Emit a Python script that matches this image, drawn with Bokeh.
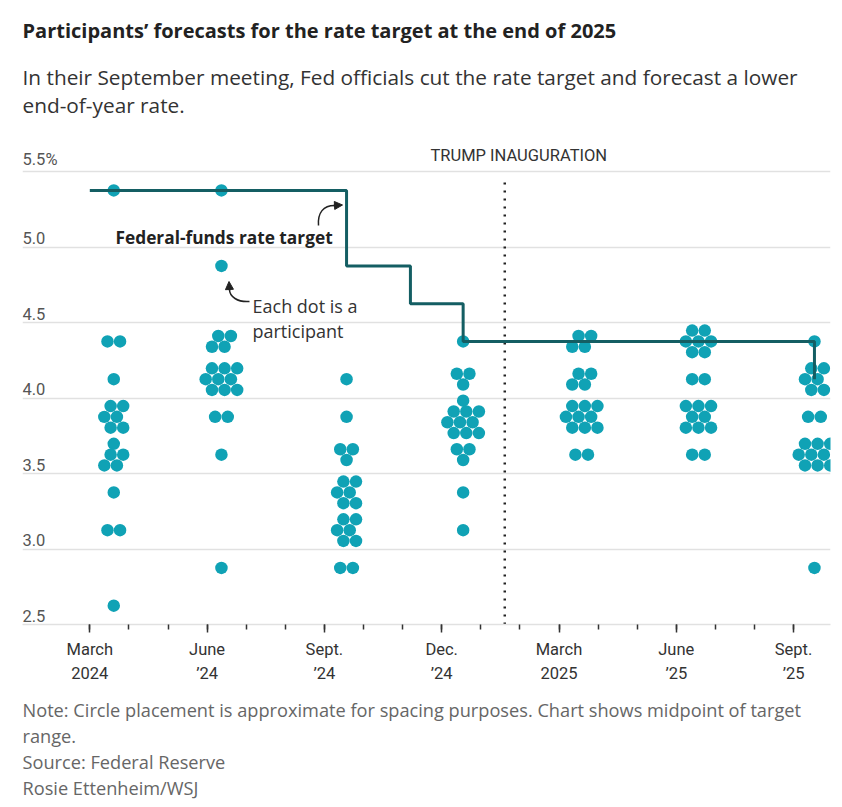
from datetime import date
from calendar import monthrange
from bokeh.plotting import figure
from bokeh.models import Range1d, FixedTicker, Grid, Title, Arrow, NormalHead
from bokeh.core.properties import value
from bokeh.embed import file_html
from bokeh.resources import INLINE

# ---------------- data ----------------
meeting_dates = ["2024-03-20", "2024-06-12", "2024-09-18", "2024-12-18",
                 "2025-03-19", "2025-06-18", "2025-09-17"]

dots_mar24 = [5.375, 4.375, 4.375, 4.125,
              3.875, 3.875, 3.875, 3.875, 3.875, 3.875,
              3.625, 3.625, 3.625, 3.625, 3.625,
              3.375, 3.125, 3.125, 2.625]
dots_jun24 = [5.375, 4.875, 4.375, 4.375, 4.375, 4.375,
              4.125, 4.125, 4.125, 4.125, 4.125, 4.125, 4.125, 4.125, 4.125,
              3.875, 3.875, 3.625, 2.875]
dots_sep24 = [4.125, 3.875, 3.625, 3.625, 3.625,
              3.375, 3.375, 3.375, 3.375, 3.375, 3.375,
              3.125, 3.125, 3.125, 3.125, 3.125, 3.125,
              2.875, 2.875]
dots_dec24 = [4.375, 4.125, 4.125, 4.125,
              3.875, 3.875, 3.875, 3.875, 3.875, 3.875, 3.875, 3.875, 3.875, 3.875,
              3.625, 3.625, 3.625, 3.375, 3.125]
dots_mar25 = [4.375, 4.375, 4.375, 4.375, 4.125, 4.125, 4.125, 4.125,
              3.875, 3.875, 3.875, 3.875, 3.875, 3.875, 3.875, 3.875, 3.875,
              3.625, 3.625]
dots_jun25 = [4.375, 4.375, 4.375, 4.375, 4.375, 4.375, 4.375, 4.125, 4.125,
              3.875, 3.875, 3.875, 3.875, 3.875, 3.875, 3.875, 3.875,
              3.625, 3.625]
dots_sep25 = [4.375, 4.125, 4.125, 4.125, 4.125, 4.125, 4.125, 3.875, 3.875,
              3.625, 3.625, 3.625, 3.625, 3.625, 3.625, 3.625, 3.625, 3.625,
              2.875]
all_dots = [dots_mar24, dots_jun24, dots_sep24, dots_dec24,
            dots_mar25, dots_jun25, dots_sep25]

rate_dates = ["2024-03-01", "2024-09-18", "2024-11-07", "2024-12-18", "2025-09-17"]
rate_values = [5.375, 4.875, 4.625, 4.375, 4.125]

inauguration_date = "2025-01-20"

xtick_months = [0, 3, 6, 9, 12, 15, 18]
xtick_labels = ["March\n2024", "June\n\u201924", "Sept.\n\u201924", "Dec.\n\u201924",
                "March\n2025", "June\n\u201925", "Sept.\n\u201925"]
ytick_values = [5.5, 5.0, 4.5, 4.0, 3.5, 3.0, 2.5]
ytick_labels = ["5.5%", "5.0", "4.5", "4.0", "3.5", "3.0", "2.5"]

# ---------------- geometry helpers ----------------
PX_MONTH = 39.1     # pixels per month
PX_UNIT = 151.0     # pixels per percentage point
ORIGIN_X = 89.3     # page x of March 2024
BASE_Y = 624.0      # page y of 2.5
FRAME_L, FRAME_R, FRAME_T = 22, 830, 8


def px2x(px):
    return (px - ORIGIN_X) / PX_MONTH


def py2y(py):
    return 2.5 + (BASE_Y - py) / PX_UNIT


def month_index(s):
    d = date.fromisoformat(s)
    m = (d.year - 2024) * 12 + d.month - 3
    return m + (d.day - 1) / monthrange(d.year, d.month)[1]


ROW_PATTERNS = {1: [1], 2: [2], 3: [2, 1], 4: [2, 2], 5: [1, 2, 2], 6: [2, 2, 2],
                7: [2, 3, 2], 8: [3, 2, 3], 9: [3, 3, 3], 10: [1, 3, 3, 3]}


def cluster_offsets(n, dx=12.6, dy=10.8):
    rows = ROW_PATTERNS[n]
    R = len(rows)
    shifts = [0.0] * R
    for r in range(R):
        same_prev = r > 0 and rows[r] == rows[r - 1]
        same_next = r < R - 1 and rows[r] == rows[r + 1]
        if same_prev:
            shifts[r] = -shifts[r - 1]
        elif same_next:
            shifts[r] = dx / 4
    out = []
    for r, k in enumerate(rows):
        for j in range(k):
            ox = (j - (k - 1) / 2) * dx + shifts[r]
            oy = -(r - (R - 1) / 2) * dy
            out.append((ox, oy))
    return out


dot_x, dot_y = [], []
for d, vals in zip(meeting_dates, all_dots):
    cx = month_index(d)
    groups = {}
    for v in vals:
        groups[v] = groups.get(v, 0) + 1
    for v, n in groups.items():
        for ox, oy in cluster_offsets(n):
            dot_x.append(cx + ox / PX_MONTH)
            dot_y.append(v + oy / PX_UNIT)

rate_x = [month_index(d) for d in rate_dates]

# ---------------- figure ----------------
X0, X1 = px2x(FRAME_L), px2x(FRAME_R)
Y1 = py2y(FRAME_T)

p = figure(frame_width=FRAME_R - FRAME_L, frame_height=int(BASE_Y - FRAME_T),
           x_range=Range1d(X0, X1), y_range=Range1d(2.5, Y1),
           output_backend="svg", toolbar_location=None, tools="",
           y_axis_location=None, min_border_left=FRAME_L, min_border_right=4,
           min_border_top=FRAME_T, min_border_bottom=0)
p.outline_line_color = None
p.background_fill_color = "white"
p.border_fill_color = "white"
p.grid.visible = False

p.add_layout(Grid(dimension=1, ticker=FixedTicker(ticks=ytick_values),
                  grid_line_color="#e1e1e1", grid_line_width=1.5))

ax = p.xaxis[0]
ax.ticker = FixedTicker(ticks=xtick_months, minor_ticks=list(range(0, 19)))
ax.major_label_overrides = {m: lab for m, lab in zip(xtick_months, xtick_labels)}
ax.axis_line_color = "#e1e1e1"
ax.axis_line_width = 1.5
ax.major_tick_line_color = "#333333"
ax.minor_tick_line_color = "#333333"
ax.major_tick_line_width = 1.5
ax.minor_tick_line_width = 1.5
ax.major_tick_in = 0
ax.major_tick_out = 8
ax.minor_tick_in = 0
ax.minor_tick_out = 5
ax.major_label_standoff = 7
ax.major_label_text_font = "Roboto"
ax.major_label_text_font_size = "16.5px"
ax.major_label_text_color = "#333333"
ax.major_label_text_line_height = 1.3

# y tick labels
p.text(x=[X0] * len(ytick_values), y=[v + 3 / PX_UNIT for v in ytick_values],
       text=ytick_labels, text_font=value("Roboto"), text_font_size="16.5px",
       text_color="#555555", text_align="left", text_baseline="bottom")

# inauguration line
ix = month_index(inauguration_date)
p.segment(x0=[ix], y0=[2.5], x1=[ix], y1=[py2y(177)], line_color="#222222",
          line_width=2.5, line_dash="2 6")
p.text(x=[ix + 14 / PX_MONTH], y=[py2y(155)], text=["TRUMP INAUGURATION"],
       text_font=value("Roboto"), text_font_size="16.5px", text_color="#333333",
       text_align="center", text_baseline="middle")

# dots
p.scatter(x=dot_x, y=dot_y, size=12.5, fill_color="#10a2b5", line_color=None)

# rate target step line
p.step(x=rate_x, y=rate_values, mode="after", line_color="#145e63", line_width=3)

# annotations
p.text(x=[px2x(115)], y=[py2y(237)], text=["Federal-funds rate target"],
       text_font=value("Open Sans"), text_font_size="17.3px", text_font_style="bold",
       text_color="#222222", text_align="left", text_baseline="middle")
p.bezier(x0=[px2x(318)], y0=[py2y(225)], x1=[px2x(334)], y1=[py2y(205)],
         cx0=[px2x(317)], cy0=[py2y(212)], cx1=[px2x(323)], cy1=[py2y(205)],
         line_color="#222222", line_width=1.5)
p.add_layout(Arrow(end=NormalHead(size=8, fill_color="#222222", line_color="#222222"),
                   x_start=px2x(333), y_start=py2y(205), x_end=px2x(342), y_end=py2y(204.5),
                   line_color="#222222", line_width=1.5))

p.text(x=[px2x(252), px2x(252)], y=[py2y(305), py2y(330)],
       text=["Each dot is a", "participant"], text_font=value("Open Sans"),
       text_font_size="18px", text_color="#333333", text_align="left",
       text_baseline="middle")
p.bezier(x0=[px2x(249)], y0=[py2y(301)], x1=[px2x(229)], y1=[py2y(289)],
         cx0=[px2x(237)], cy0=[py2y(302)], cx1=[px2x(229)], cy1=[py2y(296)],
         line_color="#222222", line_width=1.5)
p.add_layout(Arrow(end=NormalHead(size=8, fill_color="#222222", line_color="#222222"),
                   x_start=px2x(229), y_start=py2y(290), x_end=px2x(228.5), y_end=py2y(281),
                   line_color="#222222", line_width=1.5))

# title and subtitle
p.text(x=[X0], y=[py2y(30)],
       text=["Participants\u2019 forecasts for the rate target at the end of 2025"],
       text_font=value("Open Sans"), text_font_size="20px", text_font_style="bold",
       text_color="#222222", text_align="left", text_baseline="middle")
p.text(x=[X0, X0], y=[py2y(76), py2y(104)],
       text=["In their September meeting, Fed officials cut the rate target and forecast a lower",
             "end-of-year rate."],
       text_font=value("Open Sans"), text_font_size="20.8px", text_color="#333333",
       text_align="left", text_baseline="middle")

# notes
p.add_layout(Title(text="Note: Circle placement is approximate for spacing purposes. Chart shows midpoint of target\n"
                        "range.\nSource: Federal Reserve\nRosie Ettenheim/WSJ",
                   align="left", text_font="Open Sans", text_font_size="18.2px",
                   text_font_style="normal", text_color="#666666",
                   text_line_height=1.085, standoff=19), "below")

open("out.html", "w").write(file_html(p, INLINE))
